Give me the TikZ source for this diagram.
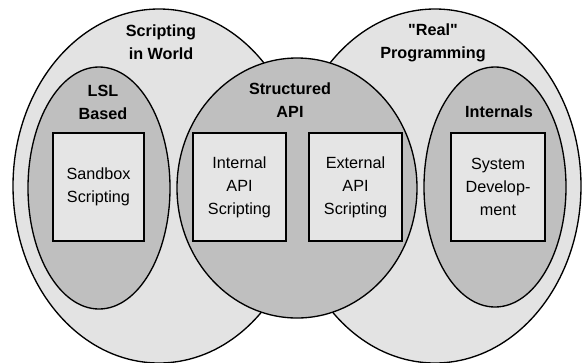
\documentclass[tikz,border=0pt]{standalone}
\usepackage{fontspec}
\setmainfont{Liberation Sans}[Ligatures=TeXOff]
\usetikzlibrary{shapes.geometric}
\definecolor{outerfill}{gray}{0.89}
\definecolor{innerfill}{gray}{0.75}
\definecolor{boxfill}{gray}{0.90}
\tikzset{
  bigset/.style={ellipse, draw=black, line width=1pt, fill=outerfill, inner sep=0pt, outer sep=0pt},
  subset/.style={ellipse, draw=black, line width=1pt, fill=innerfill, inner sep=0pt, outer sep=0pt},
  areabox/.style={rectangle, draw=black, line width=0.8pt, fill=boxfill, inner sep=0pt, outer sep=0pt,
    minimum height=81pt, align=center, font=\fontsize{12.15}{17.25}\selectfont},
  setlabel/.style={align=center, inner sep=0pt, font=\fontsize{12.15}{17.25}\selectfont\bfseries}
}
\begin{document}
\begin{tikzpicture}[x=0.75pt, y=-0.75pt]
\useasboundingbox (0,0) rectangle (582,362);
% big sets
\node[bigset, minimum width=219pt, minimum height=265.5pt] (world) at (159,186) {};
\node[bigset, minimum width=219pt, minimum height=265.5pt] (real) at (435,186) {};
\node[subset, minimum width=180pt, minimum height=195pt] (api) at (297,188) {};
\node[subset, minimum width=106.5pt, minimum height=181.5pt] (lsl) at (99,188) {};
\node[subset, minimum width=106.5pt, minimum height=180pt] (internals) at (495,187) {};
% boxes
\node[areabox, minimum width=68.25pt] (sandbox) at (98.5,187) {Sandbox\\Scripting};
\node[areabox, minimum width=69.75pt] (intapi) at (239.5,187) {Internal\\API\\Scripting};
\node[areabox, minimum width=69.75pt] (extapi) at (355.5,187) {External\\API\\Scripting};
\node[areabox, minimum width=70.5pt] (sysdev) at (498,187) {System\\Develop-\\ment};
% labels
\node[setlabel] (worldlabel) at (161,42) {Scripting\\in World};
\node[setlabel] (reallabel) at (433,43) {"Real"\\Programming};
\node[setlabel] (apilabel) at (290,100) {Structured\\API};
\node[setlabel] (lsllabel) at (103,102) {LSL\\Based};
\node[setlabel] (intlabel) at (499,112) {Internals};
\end{tikzpicture}
\end{document}
